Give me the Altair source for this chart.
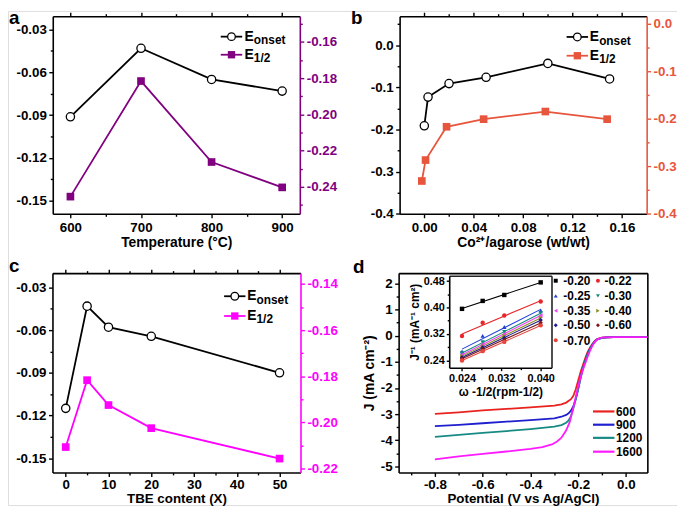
import altair as alt
import pandas as pd

W, H = 677, 500
FONT = "Liberation Sans"
MINUS = "\u2212"

# ---------------- data ----------------
# panel a
a_temp = [600, 700, 800, 900]
a_onset = [-0.0912, -0.0432, -0.0650, -0.0732]
a_half = [-0.2454, -0.1816, -0.2263, -0.2403]

# panel b
b_ratio = [0.000, 0.003, 0.020, 0.050, 0.100, 0.150]
b_onset = [-0.191, -0.123, -0.091, -0.076, -0.043, -0.080]
b_ratio_half = [-0.002, 0.001, 0.018, 0.048, 0.098, 0.148]
b_half = [-0.331, -0.287, -0.217, -0.201, -0.185, -0.201]

# panel c
c_tbe = [0, 5, 10, 20, 50]
c_onset = [-0.1150, -0.0432, -0.0580, -0.0644, -0.0900]
c_half = [-0.2107, -0.1817, -0.1925, -0.2025, -0.2157]

# panel d
d_rpm = ["600", "900", "1200", "1600"]
d_colors = ["#e8231f", "#1f1fcf", "#178a84", "#ff1aff"]
v_600 = [-0.80, -0.70, -0.60, -0.50, -0.40, -0.30, -0.27, -0.25, -0.23, -0.22, -0.21, -0.20, -0.19,
         -0.18, -0.17, -0.16, -0.15, -0.14, -0.13, -0.12, -0.10, -0.08, -0.05, 0.00, 0.09]
j_600 = [-2.99, -2.93, -2.86, -2.80, -2.74, -2.68, -2.63, -2.56, -2.43, -2.30, -2.05, -1.72, -1.40,
         -1.12, -0.86, -0.62, -0.45, -0.31, -0.20, -0.13, -0.08, -0.065, -0.06, -0.06, -0.06]
v_900 = [-0.80, -0.70, -0.60, -0.50, -0.40, -0.30, -0.27, -0.25, -0.24, -0.23, -0.22, -0.21, -0.20,
         -0.19, -0.18, -0.17, -0.16, -0.15, -0.14, -0.13, -0.12, -0.10, -0.08, -0.05, 0.00, 0.09]
j_900 = [-3.46, -3.41, -3.35, -3.29, -3.23, -3.16, -3.10, -3.03, -2.97, -2.87, -2.70, -2.42, -2.05,
         -1.62, -1.25, -0.95, -0.70, -0.50, -0.34, -0.22, -0.14, -0.085, -0.065, -0.06, -0.06, -0.06]
v_1200 = [-0.80, -0.70, -0.60, -0.50, -0.40, -0.30, -0.27, -0.25, -0.24, -0.23, -0.22, -0.21, -0.20,
          -0.19, -0.18, -0.17, -0.16, -0.15, -0.14, -0.13, -0.12, -0.10, -0.08, -0.05, 0.00, 0.09]
j_1200 = [-3.87, -3.79, -3.72, -3.65, -3.57, -3.48, -3.42, -3.33, -3.24, -3.08, -2.78, -2.43, -2.05,
          -1.63, -1.26, -0.96, -0.71, -0.51, -0.35, -0.23, -0.145, -0.085, -0.065, -0.06, -0.06, -0.06]
v_1600 = [-0.80, -0.70, -0.60, -0.50, -0.40, -0.35, -0.31, -0.29, -0.27, -0.25, -0.235, -0.22, -0.21,
          -0.20, -0.19, -0.18, -0.17, -0.16, -0.15, -0.14, -0.13, -0.12, -0.11, -0.10, -0.08, -0.05,
          0.00, 0.09]
j_1600 = [-4.73, -4.62, -4.52, -4.43, -4.33, -4.26, -4.16, -4.06, -3.90, -3.62, -3.30, -2.75, -2.35,
          -1.95, -1.60, -1.30, -1.05, -0.80, -0.57, -0.38, -0.24, -0.15, -0.10, -0.08, -0.065, -0.06,
          -0.06, -0.06]

# inset (Koutecky-Levich)
inset_x = [0.0240, 0.0282, 0.0326, 0.0400]
inset_pot = ["-0.20", "-0.22", "-0.25", "-0.30", "-0.35", "-0.40", "-0.50", "-0.60", "-0.70"]
inset_colors = ["#000000", "#e8262a", "#1f3fd6", "#178a7e", "#f040f0", "#8c8c1c", "#1c1c8c",
                "#7a1a1a", "#e8453c"]
inset_shapes = ["square", "circle", "triangle-up", "triangle-down", "triangle-left",
                "triangle-right", "diamond", "diamond", "circle"]
j_020 = [0.396, 0.420, 0.438, 0.476]
j_022 = [0.314, 0.354, 0.376, 0.418]
j_025 = [0.267, 0.314, 0.341, 0.391]
j_030 = [0.262, 0.295, 0.326, 0.383]
j_035 = [0.257, 0.289, 0.320, 0.376]
j_040 = [0.253, 0.284, 0.314, 0.369]
j_050 = [0.249, 0.279, 0.308, 0.362]
j_060 = [0.245, 0.274, 0.302, 0.354]
j_070 = [0.240, 0.268, 0.296, 0.346]

# ---------------- layout (chart px) ----------------
GA = (45.3, 295.3, 5.3, 205.3)
GB = (396.3, 646.3, 5.3, 205.3)
GC = (45.0, 296.0, 265.3, 467.0)
GD = (395.3, 647.0, 265.3, 467.0)
GI = (446.5, 550.0, 268.0, 361.0)

DUMMY = pd.DataFrame({"k": [0]})


def sc(dom, rng):
    return alt.Scale(domain=list(dom), range=list(rng), zero=False, nice=False)


def axis(orient, pos, values=None, fmt=None, labels=True, ticks=True, domain=True, title=None,
         color="black", tick=4, lsize=13.5, lpad=3, tpad=2, tsize=14):
    off = {"bottom": pos - H, "top": -pos, "left": -pos, "right": pos - W}[orient]
    kw = dict(orient=orient, offset=off, grid=False, labels=labels, ticks=ticks, domain=domain,
              domainColor=color, domainWidth=1.6, tickColor=color, tickWidth=1.4, tickSize=tick,
              labelColor=color, labelFont=FONT, labelFontSize=lsize, labelFontWeight="bold",
              labelPadding=lpad, labelFlush=False, labelOverlap=False, labelBound=False)
    if values is not None:
        kw["values"] = values
    if labels and fmt:
        kw["format"] = fmt
        kw["labelExpr"] = f"replace(datum.label, '{MINUS}', '-')"
    if title:
        kw.update(title=title, titleFont=FONT, titleFontSize=tsize, titleFontWeight="bold",
                  titleColor="black", titlePadding=tpad)
    else:
        kw["title"] = None
    return alt.Axis(**kw)


def rule(x1, x2, y, color, w=1.8):
    return alt.Chart(DUMMY).mark_rule(color=color, strokeWidth=w).encode(
        x=alt.value(x1), x2=alt.value(x2), y=alt.value(y))


def pt(x, y, shape, color, hollow, size):
    if hollow:
        m = alt.Chart(DUMMY).mark_point(shape=shape, filled=False, fill="white", stroke=color,
                                        strokeWidth=1.3, size=size, opacity=1)
    else:
        m = alt.Chart(DUMMY).mark_point(shape=shape, filled=True, color=color, size=size, opacity=1)
    return m.encode(x=alt.value(x), y=alt.value(y))


def txt(x, y, s, size, color="black"):
    return alt.Chart(DUMMY).mark_text(text=s, font=FONT, fontSize=size, fontWeight="bold",
                                      color=color, align="left", baseline="alphabetic").encode(
        x=alt.value(x), y=alt.value(y))


def dual_panel(g, xdom, yLdom, yRdom, xs_on, ys_on, xs_h, ys_h, color,
               xmaj, xmin, yLmaj, yLmin, yRmaj, yRmin, xfmt, yLfmt, yRfmt, xtitle,
               tpad=2, xlpad=3, tsize=14):
    x0, x1, y0, y1 = g
    on = pd.DataFrame({"x": xs_on, "y": ys_on})
    hf = pd.DataFrame({"x": xs_h, "y": ys_h})
    xs = sc(xdom, [x0, x1])
    yl = sc(yLdom, [y1, y0])
    yr = sc(yRdom, [y1, y0])
    minor_l = alt.Chart(on).mark_point(opacity=0).encode(
        x=alt.X("x:Q", scale=xs, axis=axis("bottom", y1, xmin, labels=False, domain=False, tick=2.5)),
        y=alt.Y("y:Q", scale=yl, axis=axis("left", x0, yLmin, labels=False, domain=False, tick=2.5)))
    minor_r = alt.Chart(hf).mark_point(opacity=0).encode(
        x=alt.X("x:Q", scale=xs, axis=axis("top", y0, xmin, labels=False, domain=False, tick=2.5)),
        y=alt.Y("y:Q", scale=yr, axis=axis("right", x1, yRmin, labels=False, domain=False,
                                           tick=2.5, color=color)))
    half = alt.Chart(hf).mark_line(
        color=color, strokeWidth=1.8,
        point=alt.OverlayMarkDef(shape="square", filled=True, color=color, size=60, opacity=1)).encode(
        x=alt.X("x:Q", scale=xs, axis=axis("top", y0, xmaj, labels=False)),
        y=alt.Y("y:Q", scale=yr, axis=axis("right", x1, yRmaj, yRfmt, color=color, lpad=2.5)))
    onset = alt.Chart(on).mark_line(
        color="black", strokeWidth=1.8,
        point=alt.OverlayMarkDef(shape="circle", filled=False, fill="white", stroke="black",
                                 strokeWidth=1.3, size=70, opacity=1)).encode(
        x=alt.X("x:Q", scale=xs, axis=axis("bottom", y1, xmaj, xfmt, title=xtitle, tpad=tpad,
                                           lpad=xlpad, tsize=tsize)),
        y=alt.Y("y:Q", scale=yl, axis=axis("left", x0, yLmaj, yLfmt, lpad=2.5)))
    return [minor_l, minor_r, half, onset]


def dual_legend(lx0, lx1, ex, r1, r2, color):
    mx = (lx0 + lx1) / 2
    return [
        rule(lx0, lx1, r1, "black"), pt(mx, r1, "circle", "black", True, 60),
        txt(ex, r1 + 4.3, "E", 14), txt(ex + 9.5, r1 + 7.7, "onset", 12),
        rule(lx0, lx1, r2, color), pt(mx, r2, "square", color, False, 55),
        txt(ex, r2 + 4.3, "E", 14), txt(ex + 9.5, r2 + 7.0, "1/2", 12),
    ]


layers = []

# ---- panel a ----
layers += dual_panel(GA, [575, 925], [-0.1592, -0.0207], [-0.2549, -0.1458],
                     a_temp, a_onset, a_temp, a_half, "#800080",
                     [600, 700, 800, 900], [650, 750, 850],
                     [-0.03, -0.06, -0.09, -0.12, -0.15], [-0.045, -0.075, -0.105, -0.135],
                     [-0.16, -0.18, -0.20, -0.22, -0.24], [-0.15, -0.17, -0.19, -0.21, -0.23, -0.25],
                     "d", ".2f", ".2f", "Temperature (°C)")
layers += dual_legend(215.3, 237.0, 239.3, 26.0, 44.3, "#800080")

# ---- panel b ----
layers += dual_panel(GB, [-0.02, 0.18], [-0.4, 0.069], [-0.4, 0.0154],
                     b_ratio, b_onset, b_ratio_half, b_half, "#e8553d",
                     [0.0, 0.04, 0.08, 0.12, 0.16], [0.02, 0.06, 0.10, 0.14],
                     [0.0, -0.1, -0.2, -0.3, -0.4], [0.05, -0.05, -0.15, -0.25, -0.35],
                     [0.0, -0.1, -0.2, -0.3, -0.4], [-0.05, -0.15, -0.25, -0.35],
                     ".2f", ".1f", ".1f", "Co²⁺/agarose (wt/wt)")
layers += dual_legend(565.3, 587.0, 588.7, 26.3, 45.3, "#e8553d")

# ---- panel c ----
layers += dual_panel(GC, [-3.1, 54.9], [-0.16, -0.02], [-0.2217, -0.1353],
                     c_tbe, c_onset, c_tbe, c_half, "#ff00ff",
                     [0, 10, 20, 30, 40, 50], [5, 15, 25, 35, 45],
                     [-0.03, -0.06, -0.09, -0.12, -0.15], [-0.045, -0.075, -0.105, -0.135],
                     [-0.14, -0.16, -0.18, -0.20, -0.22], [-0.15, -0.17, -0.19, -0.21],
                     "d", ".2f", ".2f", "TBE content (X)", tpad=0.5, xlpad=1.5, tsize=13.5)
layers += dual_legend(218.7, 240.3, 242.0, 288.7, 308.7, "#ff00ff")

# ---- panel d ----
x0, x1, y0, y1 = GD
dd = pd.concat([pd.DataFrame({"V": v, "J": j, "rpm": r})
                for v, j, r in zip([v_600, v_900, v_1200, v_1600],
                                   [j_600, j_900, j_1200, j_1600], d_rpm)], ignore_index=True)
dxs = sc([-0.952, 0.09], [x0, x1])
dys = sc([-5.23, 2.39], [y1, y0])
layers.append(alt.Chart(dd).mark_point(opacity=0).encode(
    x=alt.X("V:Q", scale=dxs, axis=axis("top", y0, labels=False, ticks=False)),
    y=alt.Y("J:Q", scale=dys, axis=axis("right", x1, labels=False, ticks=False))))
layers.append(alt.Chart(dd).mark_point(opacity=0).encode(
    x=alt.X("V:Q", scale=dxs, axis=axis("bottom", y1, [-0.9, -0.7, -0.5, -0.3, -0.1],
                                        labels=False, domain=False, tick=2.5)),
    y=alt.Y("J:Q", scale=dys, axis=axis("left", x0, [-4.5, -3.5, -2.5, -1.5, -0.5, 0.5, 1.5],
                                        labels=False, domain=False, tick=2.5))))
layers.append(alt.Chart(dd).mark_line(strokeWidth=1.8).encode(
    x=alt.X("V:Q", scale=dxs, axis=axis("bottom", y1, [-0.8, -0.6, -0.4, -0.2, 0.0], ".1f",
                                        title="Potential (V vs Ag/AgCl)", lpad=1.5, tpad=0.5,
                                        tsize=13.5)),
    y=alt.Y("J:Q", scale=dys, axis=axis("left", x0, [-5, -4, -3, -2, -1, 0, 1, 2], "d",
                                        title="J (mA cm⁻²)", tpad=4, lpad=2.5)),
    color=alt.Color("rpm:N", scale=alt.Scale(domain=d_rpm, range=d_colors), legend=None)))
for i, (r, c) in enumerate(zip(d_rpm, d_colors)):
    yy = [405.3, 418.7, 432.0, 446.0][i]
    layers.append(rule(592.0, 613.7, yy, c, 2.2))
    layers.append(txt(615.3, yy + 4.3, r, 12))

# ---- inset ----
x0, x1, y0, y1 = GI
ip = pd.concat([pd.DataFrame({"x": inset_x, "y": j, "pot": p})
                for j, p in zip([j_020, j_022, j_025, j_030, j_035, j_040, j_050, j_060, j_070],
                                inset_pot)], ignore_index=True)
ixs = sc([0.0214, 0.0422], [x0, x1])
iys = sc([0.218, 0.496], [y1, y0])
icol = alt.Scale(domain=inset_pot, range=inset_colors)
ishp = alt.Scale(domain=inset_pot, range=inset_shapes)
layers.append(alt.Chart(ip).mark_point(opacity=0).encode(
    x=alt.X("x:Q", scale=ixs, axis=axis("bottom", y1, [0.028, 0.036], labels=False, domain=False, tick=2)),
    y=alt.Y("y:Q", scale=iys, axis=axis("left", x0, [0.28, 0.36, 0.44], labels=False, domain=False, tick=2))))
layers.append(alt.Chart(ip).transform_regression("x", "y", groupby=["pot"]).mark_line(strokeWidth=1.1).encode(
    x=alt.X("x:Q", scale=ixs, axis=axis("top", y0, labels=False, ticks=False, color="#222")),
    y=alt.Y("y:Q", scale=iys, axis=axis("right", x1, labels=False, ticks=False, color="#222")),
    color=alt.Color("pot:N", scale=icol, legend=None)))
layers.append(alt.Chart(ip).mark_point(filled=True, size=20, opacity=1).encode(
    x=alt.X("x:Q", scale=ixs, axis=axis("bottom", y1, [0.024, 0.032, 0.040], ".3f",
                                        title="ω -1/2(rpm-1/2)", tick=3, lsize=11, lpad=2,
                                        tsize=12, tpad=3)),
    y=alt.Y("y:Q", scale=iys, axis=axis("left", x0, [0.24, 0.32, 0.40, 0.48], ".2f",
                                        title="J⁻¹ (mA⁻¹ cm²)", tick=3, lsize=11, lpad=2,
                                        tsize=12, tpad=2)),
    color=alt.Color("pot:N", scale=icol, legend=None),
    shape=alt.Shape("pot:N", scale=ishp, legend=None)))
rows_y = [273.0, 288.3, 303.3, 318.0, 333.3]
for i, (p, c, s) in enumerate(zip(inset_pot, inset_colors, inset_shapes)):
    col, row = i % 2, i // 2
    mx = [554.3, 597.0][col]
    tx = [562.0, 603.7][col]
    layers.append(pt(mx, rows_y[row], s, c, False, 16))
    layers.append(txt(tx, rows_y[row] + 4.3, p, 12))

# ---- panel letters ----
layers += [txt(1, 13, "a", 19), txt(347, 13, "b", 19), txt(1, 264, "c", 19), txt(349, 265, "d", 19)]

chart = alt.layer(*layers).resolve_scale(
    x="independent", y="independent", color="independent", shape="independent"
).resolve_axis(x="independent", y="independent").properties(
    width=W, height=H, autosize=alt.AutoSizeParams(type="none"), padding=0
).configure_view(stroke=None).configure(background="white")

chart.save("out.html", embed_options={"renderer": "svg", "actions": False})
